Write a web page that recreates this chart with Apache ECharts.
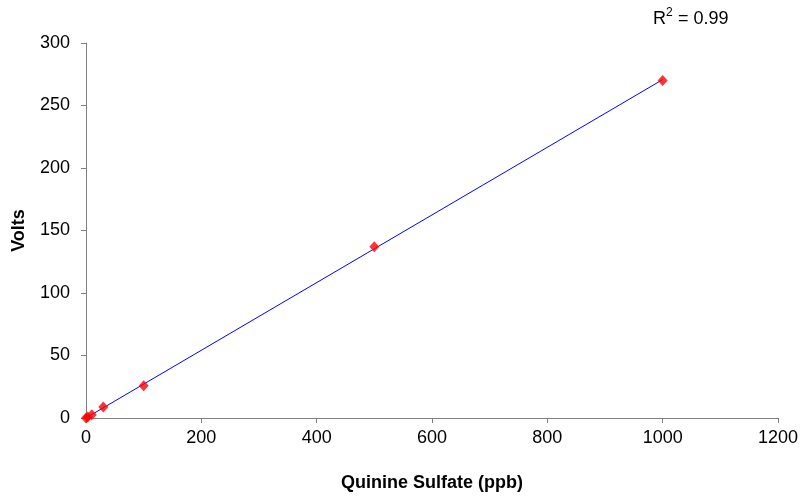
<!DOCTYPE html>
<html>
<head>
<meta charset="utf-8">
<script src="https://cdn.jsdelivr.net/npm/echarts@6/dist/echarts.min.js"></script>
<style>html,body{margin:0;padding:0;background:#fff}#c{width:801px;height:497px}</style>
</head>
<body>
<div id="c"></div>
<script>
const concentrations = [0, 3, 10, 30, 100, 500, 1000];
const volts = [0, 0.8, 2.6, 8.8, 25.8, 137, 270];
const xTicks = [0, 200, 400, 600, 800, 1000, 1200];
const yTicks = [0, 50, 100, 150, 200, 250, 300];
const rSquaredValue = '0.99';

// least-squares trend line
const n = concentrations.length;
const mx = concentrations.reduce((a,b)=>a+b,0)/n;
const my = volts.reduce((a,b)=>a+b,0)/n;
let sxy=0, sxx=0;
for (let i=0;i<n;i++){sxy+=(concentrations[i]-mx)*(volts[i]-my);sxx+=(concentrations[i]-mx)**2;}
const slope=sxy/sxx, icpt=my-slope*mx;
const xmin=Math.min(...concentrations), xmax=Math.max(...concentrations);
const trend=[[xmin,slope*xmin+icpt],[xmax,slope*xmax+icpt]];

const chart = echarts.init(document.getElementById('c'));
const font = 'Liberation Sans, Arial, sans-serif';
chart.setOption({
  animation:false,
  grid:{left:86,right:21,top:43,bottom:78},
  graphic:[
    {type:'text',left:653,top:10,style:{text:'R',font:'18px '+font,fill:'#000'}},
    {type:'text',left:666,top:7,style:{text:'2',font:'12px '+font,fill:'#000'}},
    {type:'text',left:673,top:10,style:{text:' = '+rSquaredValue,font:'18px '+font,fill:'#000'}}
  ],
  xAxis:{type:'value',min:xTicks[0],max:xTicks[xTicks.length-1],interval:200,
    name:'Quinine Sulfate (ppb)',nameLocation:'middle',nameGap:56,
    nameTextStyle:{fontFamily:font,fontWeight:'bold',fontSize:18,color:'#000'},
    axisLine:{lineStyle:{color:'#808080'}},axisTick:{length:5,lineStyle:{color:'#808080'}},
    axisLabel:{fontFamily:font,fontSize:18,color:'#000',margin:11,formatter:v=>String(v)},splitLine:{show:false}},
  yAxis:{type:'value',min:yTicks[0],max:yTicks[yTicks.length-1],interval:50,
    name:'Volts',nameLocation:'middle',nameGap:58,nameRotate:90,
    nameTextStyle:{fontFamily:font,fontWeight:'bold',fontSize:18,color:'#000'},
    axisLine:{show:true,lineStyle:{color:'#808080'}},axisTick:{show:true,length:5,lineStyle:{color:'#808080'}},
    axisLabel:{fontFamily:font,fontSize:18,color:'#000',margin:16,formatter:v=>String(v)},splitLine:{show:false}},
  series:[
    {type:'line',data:trend,symbol:'none',lineStyle:{color:'#0000ff',width:1},z:2},
    {type:'scatter',data:concentrations.map((x,i)=>[x,volts[i]]),symbol:'diamond',symbolSize:[10,11],
     itemStyle:{color:'#ff0000'},z:3}
  ]
});
</script>
</body>
</html>
